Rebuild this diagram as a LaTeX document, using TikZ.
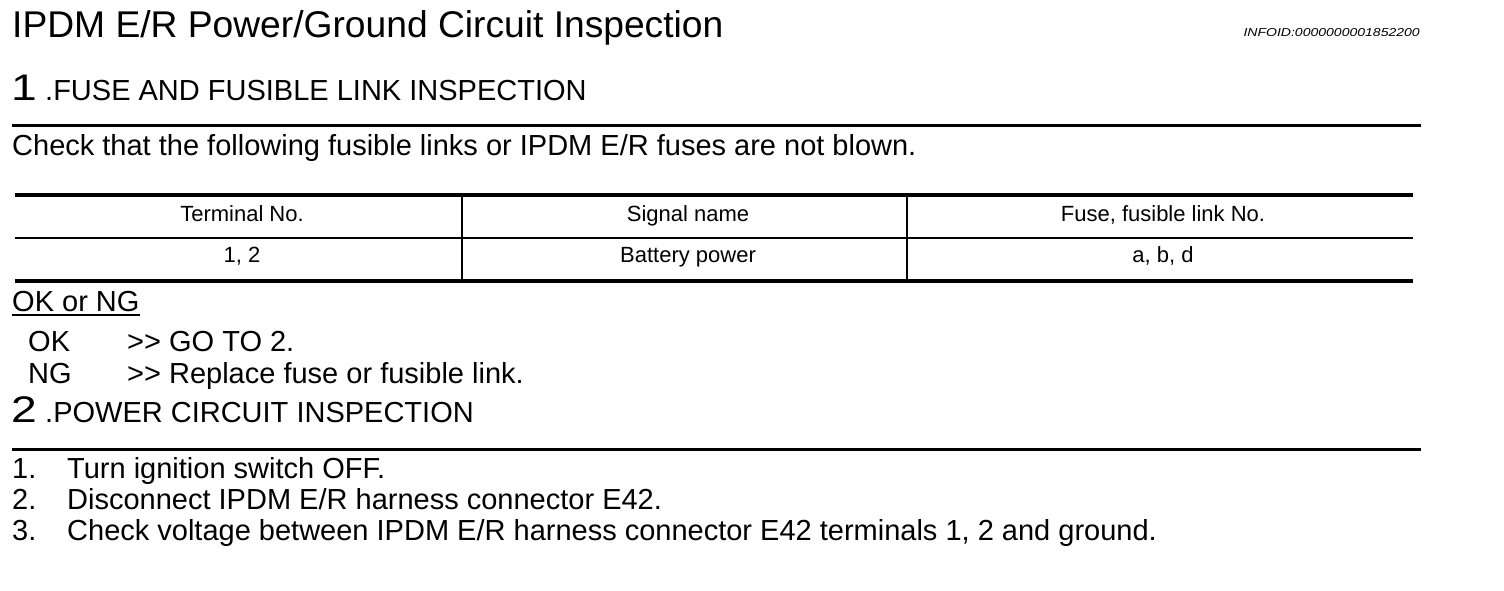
\documentclass[tikz,border=0pt]{standalone}
\usepackage{fontspec}
\setmainfont{Liberation Sans}
\newfontfamily\widefont[FakeStretch=1.22]{Liberation Sans}
\newfontfamily\digitfont[FakeStretch=1.25]{Liberation Sans}
\usetikzlibrary{calc}

\begin{document}
\begin{tikzpicture}[x=1pt,y=-1pt,
		txt/.style={anchor=base west,inner sep=0pt,font=\fontsize{29}{32}\selectfont},
		bigdigit/.style={anchor=base west,inner sep=0pt,font=\digitfont\fontsize{37}{40}\selectfont},
		cell/.style={anchor=base,inner sep=0pt,font=\fontsize{22}{24}\selectfont},
		rule/.style={line width=3pt}]
		\useasboundingbox (0,0) rectangle (1504,590);
		% heading
		\node[anchor=base west,inner sep=0pt,font=\fontsize{37.2}{40}\selectfont] (title) at (12,37) {IPDM E/R Power/Ground Circuit Inspection};
		\node[anchor=base east,inner sep=0pt,font=\widefont\itshape\fontsize{11.5}{13}\selectfont] (infoid) at (1420,36) {INFOID:0000000001852200};
		% step 1
		\node[bigdigit] (one) at (11,100) {1};
		\node[txt] (fuse) at (45,100) {.FUSE AND FUSIBLE LINK INSPECTION};
		\draw[rule] (12,125.5) -- (1421,125.5);
		\node[txt] (check) at (12,155) {Check that the following fusible links or IPDM E/R fuses are not blown.};
		% table
		\coordinate (TL) at (15,195);
		\coordinate (BR) at (1413,281);
		\draw[line width=4pt] (TL) -- (TL -| BR);
		\draw[line width=2pt] (15,238) -- (1413,238);
		\draw[line width=3.5pt] (TL |- BR) -- (BR);
		\draw[line width=2pt] (462,195) -- (462,281);
		\draw[line width=2pt] (907,195) -- (907,281);
		\node[cell] (h1) at (242,221) {Terminal No.};
		\node[cell] (h2) at (688,221) {Signal name};
		\node[cell] (h3) at (1163,221) {Fuse, fusible link No.};
		\node[cell] (c1) at (242,262) {1, 2};
		\node[cell] (c2) at (688,262) {Battery power};
		\node[cell] (c3) at (1163,262) {a, b, d};
		% result
		\node[txt] (okng) at (12,311) {OK or NG};
		\draw[line width=2pt] ($(okng.base west)+(0,3.5)$) -- ($(okng.base east)+(0,3.5)$);
		\node[txt] (ok) at (28,351) {OK};
		\node[txt] (okto) at (127,351) {>{}> GO TO 2.};
		\node[txt] (ng) at (28,383) {NG};
		\node[txt] (ngto) at (127,383) {>{}> Replace fuse or fusible link.};
		% step 2
		\node[bigdigit] (two) at (11,422) {2};
		\node[txt] (power) at (45,422) {.POWER CIRCUIT INSPECTION};
		\draw[rule] (12,449.5) -- (1421,449.5);
		\node[txt] (n1) at (12,478) {1.};
		\node[txt] (s1) at (67,478) {Turn ignition switch OFF.};
		\node[txt] (n2) at (12,509) {2.};
		\node[txt] (s2) at (67,509) {Disconnect IPDM E/R harness connector E42.};
		\node[txt] (n3) at (12,540) {3.};
		\node[txt] (s3) at (67,540) {Check voltage between IPDM E/R harness connector E42 terminals 1, 2 and ground.};
	\end{tikzpicture}
\end{document}
